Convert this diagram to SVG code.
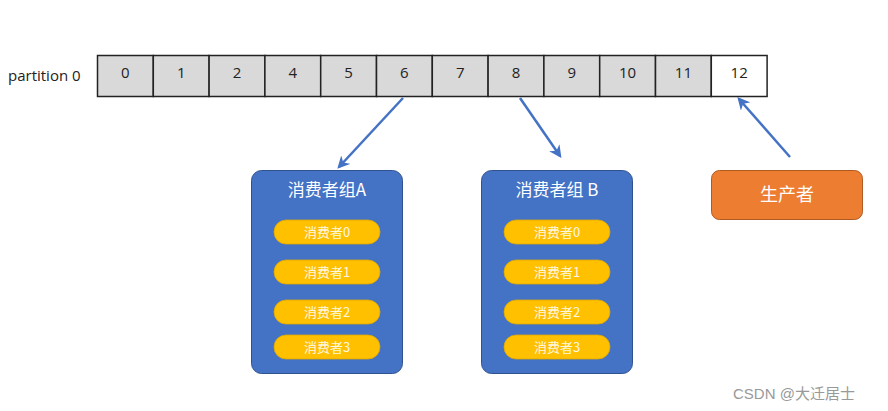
<svg xmlns="http://www.w3.org/2000/svg" width="888" height="411" viewBox="0 0 888 411">
<defs>
<style>
.cell{fill:#d9d9d9;stroke:#222;stroke-width:1.5}
.num{font-family:"Open Sans","Noto Sans",sans-serif;font-size:15px;fill:#222;text-anchor:middle}
.grp{fill:#4472c4;stroke:#2f528f;stroke-width:1}
.gt{font-family:"Noto Sans CJK SC",sans-serif;font-size:17px;fill:#fff;text-anchor:middle}
.pill{fill:#ffc000;stroke:#e0a800;stroke-width:0.8}
.pt{font-family:"Noto Sans CJK SC",sans-serif;font-size:13px;fill:#fff8e0;text-anchor:middle}
.conn{stroke:#4472c4;stroke-width:2.5;fill:none;marker-end:url(#ah)}
</style>
<marker id="ah" viewBox="0 0 10 10" refX="8" refY="5" markerWidth="5" markerHeight="5" orient="auto">
<path d="M0,0 L10,5 L0,10 L3,5 z" fill="#4472c4"/>
</marker>
</defs>
<rect width="888" height="411" fill="#fff"/>
<g id="partition">
<text x="8" y="81" font-family="Open Sans,Noto Sans,sans-serif" font-size="15" fill="#222">partition 0</text>
<rect class="cell" x="97.5" y="55.5" width="55.8" height="41"/>
<rect class="cell" x="153.3" y="55.5" width="55.8" height="41"/>
<rect class="cell" x="209.1" y="55.5" width="55.8" height="41"/>
<rect class="cell" x="264.9" y="55.5" width="55.8" height="41"/>
<rect class="cell" x="320.7" y="55.5" width="55.8" height="41"/>
<rect class="cell" x="376.5" y="55.5" width="55.8" height="41"/>
<rect class="cell" x="432.3" y="55.5" width="55.8" height="41"/>
<rect class="cell" x="488.1" y="55.5" width="55.8" height="41"/>
<rect class="cell" x="543.9" y="55.5" width="55.8" height="41"/>
<rect class="cell" x="599.7" y="55.5" width="55.8" height="41"/>
<rect class="cell" x="655.5" y="55.5" width="55.8" height="41"/>
<rect class="cell" x="711.3" y="55.5" width="55.8" height="41" style="fill:#fff"/>
<text class="num" x="125.4" y="78">0</text>
<text class="num" x="181.2" y="78">1</text>
<text class="num" x="237" y="78">2</text>
<text class="num" x="292.8" y="78">4</text>
<text class="num" x="348.6" y="78">5</text>
<text class="num" x="404.4" y="78">6</text>
<text class="num" x="460.2" y="78">7</text>
<text class="num" x="516" y="78">8</text>
<text class="num" x="571.8" y="78">9</text>
<text class="num" x="627.6" y="78">10</text>
<text class="num" x="683.4" y="78">11</text>
<text class="num" x="739.2" y="78">12</text>
</g>
<g id="groupA">
<rect class="grp" x="251.5" y="170.5" width="151" height="203" rx="10"/>
<text class="gt" x="327" y="196">消费者组A</text>
<rect class="pill" x="274" y="220" width="106" height="24" rx="12"/>
<text class="pt" x="327" y="237">消费者0</text>
<rect class="pill" x="274" y="260" width="106" height="24" rx="12"/>
<text class="pt" x="327" y="277">消费者1</text>
<rect class="pill" x="274" y="300" width="106" height="24" rx="12"/>
<text class="pt" x="327" y="317">消费者2</text>
<rect class="pill" x="274" y="335" width="106" height="24" rx="12"/>
<text class="pt" x="327" y="352">消费者3</text>
</g>
<g id="groupB">
<rect class="grp" x="481.5" y="170.5" width="151" height="203" rx="10"/>
<text class="gt" x="557" y="196">消费者组 B</text>
<rect class="pill" x="504" y="220" width="106" height="24" rx="12"/>
<text class="pt" x="557" y="237">消费者0</text>
<rect class="pill" x="504" y="260" width="106" height="24" rx="12"/>
<text class="pt" x="557" y="277">消费者1</text>
<rect class="pill" x="504" y="300" width="106" height="24" rx="12"/>
<text class="pt" x="557" y="317">消费者2</text>
<rect class="pill" x="504" y="335" width="106" height="24" rx="12"/>
<text class="pt" x="557" y="352">消费者3</text>
</g>
<g id="producer">
<rect x="711.5" y="170.5" width="151" height="49" rx="8" fill="#ed7d31" stroke="#ae5a21" stroke-width="1"/>
<text class="gt" x="787" y="201" style="font-size:18px">生产者</text>
</g>
<g id="connectors">
<line class="conn" x1="403" y1="98" x2="339" y2="167"/>
<line class="conn" x1="520" y1="98" x2="560" y2="156"/>
<line class="conn" x1="790" y1="157" x2="739" y2="99"/>
</g>
<text x="733" y="399" font-family="Liberation Sans,Noto Sans CJK SC,sans-serif" font-size="15" fill="#999">CSDN @大迁居士</text>
</svg>
